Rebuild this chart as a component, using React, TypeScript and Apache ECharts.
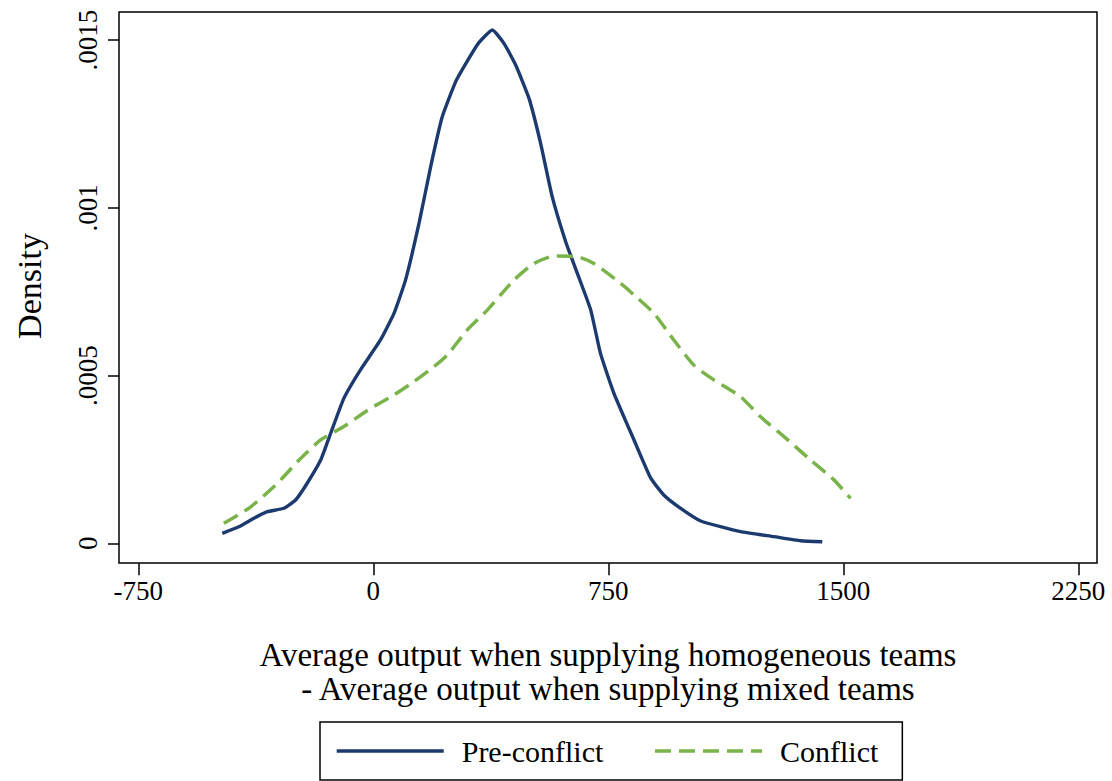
import React, { useEffect, useRef } from 'react';
import * as echarts from 'echarts';

const preConflictX = [-482, -424, -381, -338, -285, -248, -211, -168, -136, -94, -41, 23, 66, 103, 146, 183, 220, 263, 298, 337, 380, 417, 454, 497, 534, 571, 614, 651, 694, 725, 768, 832, 885, 927, 981, 1045, 1172, 1279, 1364, 1433];
const preConflictY = [0.0000298, 0.0000516, 0.0000745, 0.0000942, 0.0001043, 0.000129, 0.000179, 0.000248, 0.000328, 0.000432, 0.000517, 0.000606, 0.000685, 0.000785, 0.000954, 0.001122, 0.001271, 0.001376, 0.001434, 0.001492, 0.00153, 0.00149, 0.001426, 0.001326, 0.001192, 0.001033, 0.000899, 0.000805, 0.000695, 0.000566, 0.000447, 0.000308, 0.000195, 0.000144, 0.000104, 0.0000665, 0.0000346, 0.0000197, 0.0000077, 0.0000048];

const conflictX = [-477, -392, -306, -232, -168, -94, -9, 66, 130, 193, 236, 300, 364, 406, 449, 513, 576, 651, 704, 789, 832, 896, 959, 1023, 1087, 1172, 1236, 1311, 1396, 1470, 1523];
const conflictY = [0.0000596, 0.000108, 0.000179, 0.000253, 0.000308, 0.000348, 0.000402, 0.000442, 0.000482, 0.000526, 0.000561, 0.000636, 0.000695, 0.00074, 0.000785, 0.000834, 0.000856, 0.000854, 0.000834, 0.000775, 0.00074, 0.000685, 0.000606, 0.000531, 0.000487, 0.000437, 0.000377, 0.000318, 0.000248, 0.000189, 0.000134];

const seriesNames = ['Pre-conflict', 'Conflict'];
const xTickLabels = ['-750', '0', '750', '1500', '2250'];
const yTickLabels = ['0', '.0005', '.001', '.0015'];
const yAxisTitle = 'Density';
const xAxisTitleLines = [
  'Average output when supplying homogeneous teams',
  '- Average output when supplying mixed teams',
];

const FONT = "'Liberation Serif', 'DejaVu Serif', serif";
const NAVY = '#1c3a6e';
const GREEN = '#7ab34a';

export default function App() {
  const ref = useRef<HTMLDivElement>(null);

  useEffect(() => {
    document.body.style.margin = '0';
    const chart = echarts.init(ref.current!, null, { renderer: 'svg' });
    const option: any = {
      animation: false,
      backgroundColor: '#ffffff',
      textStyle: { fontFamily: FONT },
      grid: { left: 138.3, top: 40, width: 940, height: 503.3, containLabel: false },
      xAxis: {
        type: 'value',
        min: -750,
        max: 2250,
        interval: 750,
        offset: 20,
        axisLine: { show: false, onZero: false },
        axisTick: { show: true, length: 12, lineStyle: { color: '#000', width: 1.5 } },
        splitLine: { show: false },
        axisLabel: {
          margin: 14,
          color: '#000',
          fontSize: 27,
          fontFamily: FONT,
          formatter: (_v: number, i: number) => xTickLabels[i],
        },
      },
      yAxis: {
        type: 'value',
        min: 0,
        max: 0.0015,
        interval: 0.0005,
        offset: 19.3,
        axisLine: { show: false, onZero: false },
        axisTick: { show: true, length: 11, lineStyle: { color: '#000', width: 1.5 } },
        splitLine: { show: false },
        axisLabel: {
          rotate: 90,
          margin: 18,
          color: '#000',
          fontSize: 27,
          fontFamily: FONT,
          formatter: (_v: number, i: number) => yTickLabels[i],
        },
      },
      legend: {
        left: 320,
        top: 722,
        orient: 'horizontal',
        padding: [14, 24, 14, 15],
        borderColor: '#000',
        borderWidth: 1.5,
        itemWidth: 107,
        itemHeight: 4,
        itemGap: 50,
        itemStyle: { opacity: 0 },
        lineStyle: { width: 3.4 },
        textStyle: { fontSize: 30, lineHeight: 30, fontFamily: FONT, color: '#000', padding: [0, 0, 0, 13] },
        data: seriesNames,
      },
      graphic: [
        {
          type: 'rect',
          shape: { x: 119, y: 12, width: 978, height: 551 },
          style: { fill: 'none', stroke: '#000', lineWidth: 1.5 },
          silent: true,
          z: 10,
        },
        {
          type: 'text',
          x: 29,
          y: 286,
          rotation: Math.PI / 2,
          style: { text: yAxisTitle, font: `34px ${FONT}`, fill: '#000', textAlign: 'center', textVerticalAlign: 'middle' },
        },
        {
          type: 'text',
          x: 608,
          y: 655,
          style: { text: xAxisTitleLines[0], font: `33px ${FONT}`, fill: '#000', textAlign: 'center', textVerticalAlign: 'middle' },
        },
        {
          type: 'text',
          x: 608,
          y: 689,
          style: { text: xAxisTitleLines[1], font: `33px ${FONT}`, fill: '#000', textAlign: 'center', textVerticalAlign: 'middle' },
        },
      ],
      series: [
        {
          name: seriesNames[0],
          type: 'line',
          data: preConflictX.map((x, i) => [x, preConflictY[i]]),
          symbol: 'none',
          smooth: 0.15,
          clip: false,
          lineStyle: { color: NAVY, width: 3.4 },
          itemStyle: { color: NAVY },
        },
        {
          name: seriesNames[1],
          type: 'line',
          data: conflictX.map((x, i) => [x, conflictY[i]]),
          symbol: 'none',
          smooth: 0.2,
          clip: false,
          lineStyle: { color: GREEN, width: 3.5, type: [16, 8] },
          itemStyle: { color: GREEN },
        },
      ],
    };
    chart.setOption(option);
    return () => chart.dispose();
  }, []);

  return <div ref={ref} style={{ width: 1112, height: 781 }} />;
}
